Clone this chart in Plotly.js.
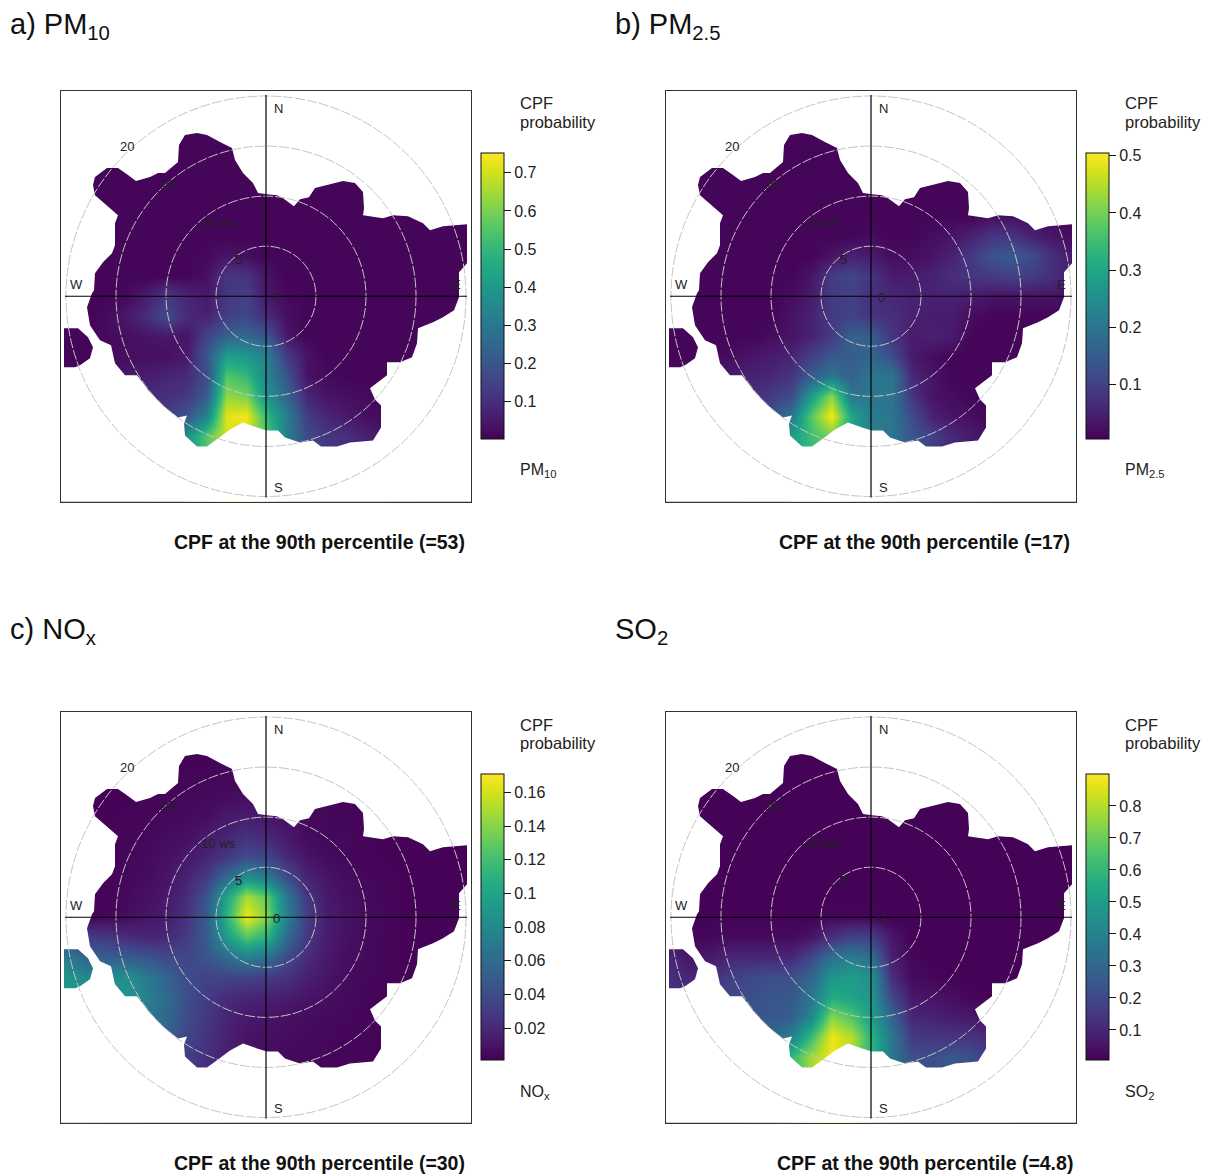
<!DOCTYPE html>
<html><head><meta charset="utf-8">
<script src="https://cdn.plot.ly/plotly-3.0.1.min.js"></script>
<style>html,body{margin:0;padding:0;background:#fff}</style></head>
<body><div id="chart" style="width:1208px;height:1176px"></div>
<script>
// grid of wind-speed coordinates (ws units)
const gridX=[-20,-18,-16,-14,-12,-10,-8,-6,-4,-2,0,2,4,6,8,10,12,14,16,18,20];
const gridY=[20,18,16,14,12,10,8,6,4,2,0,-2,-4,-6,-8,-10,-12,-14,-16,-18,-20];
const pm10=[
[.01,.01,.01,.01,.01,.01,.01,.01,.01,.01,.01,.01,.01,.01,.01,.01,.01,.01,.01,.01,.01],
[.01,.01,.01,.01,.01,.01,.01,.01,.01,.01,.01,.01,.01,.01,.01,.01,.01,.01,.01,.01,.01],
[.01,.01,.01,.01,.01,.01,.01,.01,.01,.01,.01,.01,.01,.01,.01,.01,.01,.01,.01,.01,.01],
[.01,.01,.01,.01,.01,.01,.01,.01,.01,.01,.01,.01,.01,.01,.01,.01,.01,.01,.01,.01,.01],
[.01,.01,.01,.01,.01,.01,.01,.01,.01,.01,.01,.01,.01,.01,.01,.01,.01,.01,.01,.01,.01],
[.01,.01,.01,.01,.01,.01,.01,.01,.01,.01,.01,.01,.01,.01,.01,.01,.01,.01,.01,.01,.01],
[.01,.01,.01,.01,.01,.01,.01,.01,.01,.01,.01,.01,.01,.01,.01,.01,.01,.01,.01,.01,.01],
[.01,.01,.01,.01,.01,.01,.01,.01,.01,.01,.01,.01,.01,.01,.01,.01,.01,.01,.01,.01,.01],
[.01,.01,.01,.01,.01,.01,.01,.02,.04,.03,.01,.01,.01,.01,.01,.01,.01,.01,.01,.01,.01],
[.01,.01,.01,.01,.01,.01,.01,.03,.12,.11,.04,.01,.01,.01,.01,.01,.01,.01,.01,.01,.01],
[.01,.01,.01,.02,.06,.13,.08,.05,.12,.14,.05,.02,.01,.01,.01,.01,.01,.01,.01,.01,.01],
[.01,.01,.02,.05,.10,.17,.09,.07,.14,.16,.09,.03,.01,.01,.01,.01,.01,.01,.01,.01,.01],
[.01,.01,.02,.03,.04,.05,.04,.15,.24,.25,.20,.05,.01,.01,.01,.01,.01,.01,.01,.01,.01],
[.01,.01,.02,.03,.03,.03,.05,.20,.42,.40,.33,.13,.04,.01,.01,.01,.01,.01,.01,.01,.01],
[.02,.02,.03,.05,.06,.08,.09,.17,.55,.50,.34,.20,.04,.02,.01,.01,.01,.01,.01,.01,.01],
[.03,.04,.05,.08,.09,.10,.12,.22,.63,.60,.38,.25,.08,.04,.03,.02,.01,.01,.01,.01,.01],
[.04,.05,.07,.10,.12,.14,.20,.33,.72,.74,.50,.32,.14,.08,.05,.03,.02,.01,.01,.01,.01],
[.05,.06,.08,.12,.16,.20,.38,.55,.70,.70,.55,.32,.17,.12,.10,.07,.04,.02,.01,.01,.01],
[.05,.06,.08,.12,.16,.20,.38,.55,.70,.70,.55,.32,.17,.12,.10,.07,.04,.02,.01,.01,.01],
[.05,.06,.08,.12,.16,.20,.38,.55,.70,.70,.55,.32,.17,.12,.10,.07,.04,.02,.01,.01,.01],
[.05,.06,.08,.12,.16,.20,.38,.55,.70,.70,.55,.32,.17,.12,.10,.07,.04,.02,.01,.01,.01]];
const pm25=[
[.01,.01,.01,.01,.01,.01,.01,.01,.01,.01,.01,.01,.01,.01,.01,.01,.01,.01,.01,.01,.01],
[.01,.01,.01,.01,.01,.01,.01,.01,.01,.01,.01,.01,.01,.01,.01,.01,.01,.01,.01,.01,.01],
[.01,.01,.01,.01,.01,.01,.01,.01,.01,.01,.01,.01,.01,.01,.01,.01,.01,.01,.01,.01,.01],
[.01,.01,.01,.01,.01,.01,.01,.01,.01,.01,.01,.01,.01,.01,.01,.01,.01,.01,.01,.01,.01],
[.01,.01,.01,.01,.01,.01,.01,.01,.01,.01,.01,.01,.01,.01,.01,.01,.01,.01,.01,.01,.01],
[.01,.01,.01,.01,.01,.01,.01,.01,.01,.01,.01,.01,.01,.01,.01,.01,.01,.01,.01,.01,.01],
[.01,.01,.01,.01,.01,.01,.01,.01,.01,.01,.01,.01,.01,.01,.01,.01,.02,.02,.02,.02,.01],
[.01,.01,.01,.01,.01,.01,.01,.01,.01,.01,.02,.01,.01,.02,.03,.05,.08,.08,.05,.03,.02],
[.01,.01,.01,.01,.01,.01,.01,.01,.03,.05,.04,.02,.02,.03,.05,.09,.13,.15,.12,.07,.04],
[.01,.01,.01,.01,.01,.01,.01,.03,.09,.11,.08,.04,.04,.05,.07,.08,.09,.10,.09,.07,.05],
[.01,.01,.01,.01,.01,.01,.02,.04,.09,.10,.07,.06,.05,.05,.05,.04,.03,.03,.03,.03,.02],
[.01,.01,.01,.01,.01,.01,.03,.05,.09,.10,.08,.07,.05,.04,.04,.02,.01,.01,.01,.01,.01],
[.01,.01,.01,.01,.01,.02,.03,.05,.09,.16,.15,.08,.04,.05,.04,.01,.01,.01,.01,.01,.01],
[.01,.01,.01,.02,.03,.04,.05,.10,.14,.15,.17,.12,.04,.02,.01,.01,.01,.01,.01,.01,.01],
[.02,.02,.03,.04,.05,.06,.08,.15,.20,.16,.20,.20,.06,.03,.01,.01,.01,.01,.01,.01,.01],
[.03,.03,.04,.05,.07,.09,.12,.28,.42,.20,.20,.20,.08,.03,.02,.01,.01,.01,.01,.01,.01],
[.04,.05,.07,.08,.10,.13,.20,.38,.50,.30,.21,.20,.12,.05,.03,.02,.01,.01,.01,.01,.01],
[.05,.06,.08,.10,.12,.15,.28,.35,.40,.30,.22,.20,.14,.10,.06,.04,.02,.01,.01,.01,.01],
[.05,.06,.08,.10,.12,.15,.28,.35,.40,.30,.22,.20,.14,.10,.06,.04,.02,.01,.01,.01,.01],
[.05,.06,.08,.10,.12,.15,.28,.35,.40,.30,.22,.20,.14,.10,.06,.04,.02,.01,.01,.01,.01],
[.05,.06,.08,.10,.12,.15,.28,.35,.40,.30,.22,.20,.14,.10,.06,.04,.02,.01,.01,.01,.01]];
const nox=[
[.002,.002,.002,.002,.002,.002,.002,.002,.002,.002,.002,.002,.002,.002,.002,.002,.002,.002,.002,.002,.002],
[.002,.002,.002,.002,.002,.002,.002,.002,.002,.002,.002,.002,.002,.002,.002,.002,.002,.002,.002,.002,.002],
[.002,.002,.002,.002,.002,.002,.002,.002,.003,.003,.003,.002,.002,.002,.002,.002,.002,.002,.002,.002,.002],
[.002,.002,.002,.002,.002,.002,.003,.003,.004,.004,.004,.003,.002,.002,.002,.002,.002,.002,.002,.002,.002],
[.002,.002,.002,.002,.003,.003,.004,.005,.006,.007,.006,.005,.003,.003,.003,.003,.002,.002,.002,.002,.002],
[.002,.002,.002,.003,.003,.004,.005,.007,.012,.014,.012,.008,.005,.004,.004,.003,.002,.002,.002,.002,.002],
[.002,.002,.003,.003,.004,.006,.008,.013,.018,.025,.020,.012,.006,.004,.004,.003,.002,.002,.002,.002,.002],
[.002,.002,.003,.004,.005,.008,.012,.018,.028,.040,.036,.020,.010,.006,.004,.003,.002,.002,.002,.002,.002],
[.002,.002,.003,.004,.006,.010,.017,.030,.060,.085,.070,.040,.017,.010,.006,.004,.003,.002,.002,.002,.002],
[.002,.002,.003,.005,.008,.012,.022,.045,.100,.150,.130,.070,.028,.012,.008,.005,.003,.002,.002,.002,.002],
[.002,.003,.004,.006,.010,.014,.025,.050,.110,.168,.140,.075,.032,.014,.009,.006,.004,.002,.002,.002,.002],
[.030,.030,.028,.022,.018,.020,.030,.050,.095,.125,.110,.060,.028,.014,.008,.005,.003,.002,.002,.002,.002],
[.070,.055,.050,.050,.045,.038,.036,.045,.060,.075,.065,.040,.022,.012,.007,.005,.003,.002,.002,.002,.002],
[.090,.080,.080,.085,.070,.055,.040,.035,.035,.035,.030,.025,.016,.010,.006,.004,.003,.002,.002,.002,.002],
[.090,.090,.090,.090,.075,.060,.042,.030,.022,.018,.016,.014,.010,.007,.005,.003,.002,.002,.002,.002,.002],
[.090,.090,.090,.085,.070,.058,.040,.028,.018,.012,.010,.008,.006,.005,.004,.003,.002,.002,.002,.002,.002],
[.090,.090,.085,.080,.065,.052,.036,.026,.016,.010,.008,.006,.005,.004,.003,.003,.002,.002,.002,.002,.002],
[.090,.085,.080,.070,.055,.045,.032,.024,.015,.010,.006,.005,.004,.004,.003,.003,.002,.002,.002,.002,.002],
[.090,.085,.080,.070,.055,.045,.032,.024,.015,.010,.006,.005,.004,.004,.003,.003,.002,.002,.002,.002,.002],
[.090,.085,.080,.070,.055,.045,.032,.024,.015,.010,.006,.005,.004,.004,.003,.003,.002,.002,.002,.002,.002],
[.090,.085,.080,.070,.055,.045,.032,.024,.015,.010,.006,.005,.004,.004,.003,.003,.002,.002,.002,.002,.002]];
const so2=[
[.01,.01,.01,.01,.01,.01,.01,.01,.01,.01,.01,.01,.01,.01,.01,.01,.01,.01,.01,.01,.01],
[.01,.01,.01,.01,.01,.01,.01,.01,.01,.01,.01,.01,.01,.01,.01,.01,.01,.01,.01,.01,.01],
[.01,.01,.01,.01,.01,.01,.01,.01,.01,.01,.01,.01,.01,.01,.01,.01,.01,.01,.01,.01,.01],
[.01,.01,.01,.01,.01,.01,.01,.01,.01,.01,.01,.01,.01,.01,.01,.01,.01,.01,.01,.01,.01],
[.01,.01,.01,.01,.01,.01,.01,.01,.01,.01,.01,.01,.01,.01,.01,.01,.01,.01,.01,.01,.01],
[.01,.01,.01,.01,.01,.01,.01,.01,.01,.01,.01,.01,.01,.01,.01,.01,.01,.01,.01,.01,.01],
[.01,.01,.01,.01,.01,.01,.01,.01,.01,.01,.01,.01,.01,.01,.01,.01,.01,.01,.01,.01,.01],
[.01,.01,.01,.01,.01,.01,.01,.01,.01,.01,.01,.01,.01,.01,.01,.01,.01,.01,.01,.01,.01],
[.01,.01,.01,.01,.01,.01,.01,.01,.01,.01,.01,.01,.01,.01,.01,.01,.01,.01,.01,.01,.01],
[.01,.01,.01,.01,.01,.01,.01,.01,.01,.01,.01,.01,.01,.01,.01,.01,.01,.01,.01,.01,.01],
[.01,.01,.01,.01,.01,.01,.01,.01,.02,.02,.02,.01,.01,.01,.01,.01,.01,.01,.01,.01,.01],
[.02,.02,.02,.03,.03,.03,.03,.05,.13,.18,.17,.06,.01,.01,.01,.01,.01,.01,.01,.01,.01],
[.10,.05,.07,.10,.10,.10,.10,.20,.33,.38,.33,.08,.02,.01,.01,.01,.01,.01,.01,.01,.01],
[.12,.10,.13,.17,.20,.22,.22,.30,.47,.50,.45,.12,.03,.02,.01,.01,.01,.01,.01,.01,.01],
[.12,.12,.16,.20,.22,.24,.25,.36,.55,.52,.47,.20,.06,.05,.04,.02,.01,.01,.01,.01,.01],
[.12,.14,.18,.22,.24,.25,.27,.42,.74,.66,.50,.30,.10,.09,.07,.06,.03,.02,.01,.01,.01],
[.12,.16,.20,.24,.26,.30,.40,.62,.88,.80,.58,.36,.16,.14,.14,.14,.11,.05,.02,.01,.01],
[.12,.16,.20,.26,.30,.40,.60,.78,.88,.80,.58,.36,.22,.22,.25,.22,.15,.08,.03,.01,.01],
[.12,.16,.20,.26,.30,.40,.60,.78,.88,.80,.58,.36,.22,.22,.25,.22,.15,.08,.03,.01,.01],
[.12,.16,.20,.26,.30,.40,.60,.78,.88,.80,.58,.36,.22,.22,.25,.22,.15,.08,.03,.01,.01],
[.12,.16,.20,.26,.30,.40,.60,.78,.88,.80,.58,.36,.22,.22,.25,.22,.15,.08,.03,.01,.01]];

// edge of the sampled wind field (ws units)
const edgeX=[-17.6,-16.6,-15.5,-15.1,-14.1,-12.9,-11.6,-10.3,-8.8,-7.9,-8.2,-8.1,-6.9,-5.9,-4.8,-3.6,-2.3,-0.9,0.1,1.2,1.9,3.4,4.7,5.5,7.1,8.4,10.7,11.5,11.5,10.9,10.4,12.1,12.1,13.4,14.6,15.1,15.2,16.7,17.7,18.8,19.3,19.3,20.1,20.1,17.7,16.4,15.7,14.2,12.7,11.7,9.7,9.8,9.7,8.9,7.7,6.1,4.9,4.3,3.4,2.8,1.7,1.1,0.1,-0.8,-1.3,-2.3,-3.1,-3.4,-4.6,-5.9,-6.9,-8.1,-8.7,-8.8,-10.1,-10.8,-11.6,-13,-13.8,-14.8,-15.9,-17.1,-17.3,-17.1,-15.6,-14.8,-15.1,-15.1,-15.4,-16.3,-17.1,-17.2,-17.4,-17.9];
const edgeY=[-2.9,-4.4,-4.9,-6.7,-7.9,-7.9,-9.6,-10.9,-12.1,-11.9,-12.7,-13.9,-15,-15,-14.2,-13.3,-12.6,-13.1,-13.4,-13.4,-14.1,-14.6,-14.4,-15,-15,-14.6,-14.4,-13.1,-10.9,-10.3,-9.2,-7.9,-6.6,-6.6,-6.1,-4.7,-3.2,-2.6,-2.1,-1.4,-0.1,2.4,3.3,7.2,7,6.6,7.3,8,8.1,7.8,8.1,8.8,10.4,11.3,11.5,11.1,10.8,9.9,9.7,9,9.8,10.1,10.2,10.3,11.3,12.3,13.6,14.8,15.4,16.1,16.3,16.1,15.1,13.4,12.3,12.3,11.9,11.5,12.1,12.8,12.8,11.9,11.1,10.1,8.8,8.1,7.3,5.1,4.3,3.4,2.3,0.6,0.3,-1.1];
const isleX=[-18.8,-20.2,-20.2,-19.1,-18.6,-17.6,-17.3,-17.8];
const isleY=[-3.2,-3.2,-7.1,-7.1,-6.9,-6.2,-5.1,-4.1];

const wsRings=[5,10,15,20];
const ringLabels=['5','10 ws','15','20'];
const ringLabelX=[-2.75,-4.8,-9.9,-13.9];
const ringLabelY=[3.67,7.4,11.2,15];
const compass=['N','S','E','W','0'];
const compassX=[1.2,1.2,19,-19,1];
const compassY=[18.8,-19.1,1.2,1.2,-0.1];

const headings=['a) PM<sub>10</sub>','b) PM<sub>2.5</sub>','c) NO<sub>x</sub>','SO<sub>2</sub>'];
const species=['PM<sub>10</sub>','PM<sub>2.5</sub>','NO<sub>x</sub>','SO<sub>2</sub>'];
const captions=['CPF at the 90th percentile (=53)','CPF at the 90th percentile (=17)','CPF at the 90th percentile (=30)','CPF at the 90th percentile (=4.8)'];
const fields=[pm10,pm25,nox,so2];
const zMin=[0.002,0.004,0.001,0.006];
const zMax=[0.752,0.505,0.171,0.9];
const tickVals=[[.1,.2,.3,.4,.5,.6,.7],[.1,.2,.3,.4,.5],[.02,.04,.06,.08,.1,.12,.14,.16],[.1,.2,.3,.4,.5,.6,.7,.8]];
const tickText=[['0.1','0.2','0.3','0.4','0.5','0.6','0.7'],['0.1','0.2','0.3','0.4','0.5'],['0.02','0.04','0.06','0.08','0.1','0.12','0.14','0.16'],['0.1','0.2','0.3','0.4','0.5','0.6','0.7','0.8']];

const W=1208,H=1176;
const FONT='"Liberation Sans",Arial,sans-serif';
const boxLeft=[60.5,665.5], boxTop=[91,712], boxSize=410.5;
const px=x=>x/W, py=y=>1-y/H;

// mask polygon: outer box clockwise, then the island and the main field as counter-clockwise holes
const maskX=[-21,-21,21,21,-21,-21].concat(isleX,[isleX[0]],edgeX,[edgeX[0],isleX[0],-21]);
const maskY=[-2,21,21,-21,-21,-2].concat(isleY,[isleY[0]],edgeY,[edgeY[0],isleY[0],-2]);

const traces=[],shapes=[],annotations=[],layout={};
fields.forEach((z,i)=>{
  const col=i%2,row=i>>1,sfx=i?String(i+1):'';
  const L=boxLeft[col],T=boxTop[row],xa='x'+sfx,ya='y'+sfx;
  const axis={showgrid:false,zeroline:false,showticklabels:false,ticks:'',showline:true,mirror:true,linecolor:'#333',linewidth:1,range:[-20.55,20.5],fixedrange:true};
  layout['xaxis'+sfx]=Object.assign({},axis,{domain:[px(L),px(L+boxSize)],anchor:ya});
  layout['yaxis'+sfx]=Object.assign({},axis,{domain:[py(T+boxSize),py(T)],anchor:xa,range:[-20.5,20.5]});
  traces.push({type:'heatmap',x:gridX,y:gridY.slice().reverse(),z:z.slice().reverse(),xaxis:xa,yaxis:ya,
    colorscale:'Viridis',zmin:zMin[i],zmax:zMax[i],zsmooth:'best',hoverinfo:'skip',
    colorbar:{x:px(L+420.5),xanchor:'left',y:py(T+62),yanchor:'top',len:286/H,lenmode:'fraction',thickness:23,thicknessmode:'pixels',xpad:0,ypad:0,
      outlinecolor:'#111',outlinewidth:1,ticks:'outside',ticklen:7,tickwidth:1,tickcolor:'#111',tickvals:tickVals[i],ticktext:tickText[i],
      tickfont:{family:FONT,size:16,color:'#222'}}});
  traces.push({type:'scatter',mode:'lines',x:maskX,y:maskY,xaxis:xa,yaxis:ya,fill:'toself',fillcolor:'#fff',line:{width:0,simplify:false},hoverinfo:'skip',showlegend:false});
  wsRings.forEach(r=>shapes.push({type:'circle',xref:xa,yref:ya,x0:-r,x1:r,y0:-r,y1:r,line:{color:'#c4c4c4',width:1,dash:'10px,2px'},layer:'above'}));
  shapes.push({type:'line',xref:xa,yref:ya,x0:-20.1,x1:20.1,y0:0,y1:0,line:{color:'#000',width:1.2},layer:'above'});
  shapes.push({type:'line',xref:xa,yref:ya,x0:0,x1:0,y0:-20.1,y1:20.1,line:{color:'#000',width:1.2},layer:'above'});
  const dataText=(t,x,y)=>annotations.push({xref:xa,yref:ya,x,y,text:t,showarrow:false,xanchor:'center',yanchor:'middle',font:{family:FONT,size:13,color:'#222'}});
  compass.forEach((t,k)=>dataText(t,compassX[k],compassY[k]));
  ringLabels.forEach((t,k)=>dataText(t,ringLabelX[k],ringLabelY[k]));
  const pageText=(t,x,y,sz,anchor,extra)=>annotations.push({xref:'paper',yref:'paper',x:px(x),y:py(y),text:t,showarrow:false,xanchor:anchor,yanchor:'middle',align:'left',font:Object.assign({family:FONT,size:sz,color:'#222'},extra||{})});
  pageText('CPF',L+457.5,T+12.5,16.5,'left');
  pageText('probability',L+457.5,T+31,16.5,'left');
  pageText(species[i],L+457.5,T+380,16,'left');
  pageText('<b>'+captions[i]+'</b>',L+259,T+451,19.5,'center',{color:'#111'});
  pageText(headings[i],col?613:8,(row?631:26),29,'left',{color:'#111'});
});
Plotly.newPlot('chart',traces,Object.assign(layout,{width:W,height:H,margin:{l:0,r:0,t:0,b:0},paper_bgcolor:'#fff',plot_bgcolor:'#fff',showlegend:false,shapes,annotations}),{staticPlot:true,displayModeBar:false});
</script></body></html>
